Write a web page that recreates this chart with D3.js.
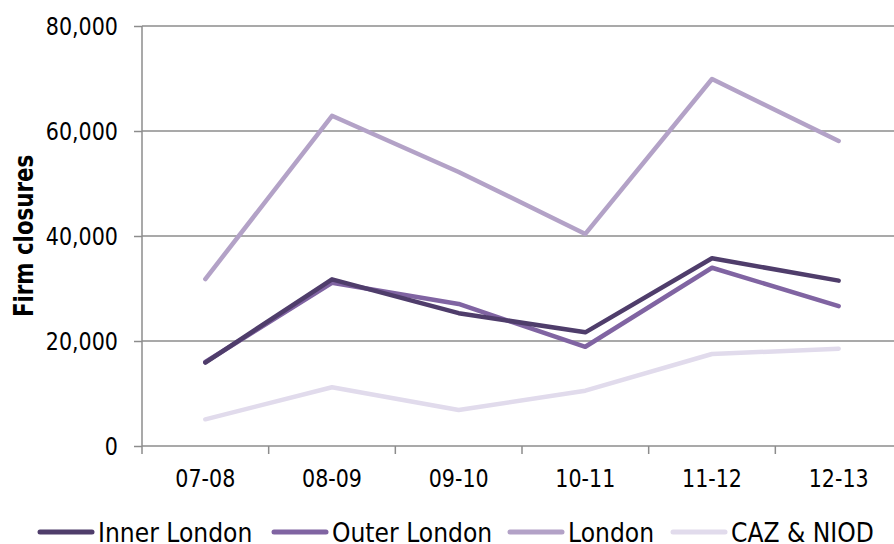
<!DOCTYPE html>
<html><head><meta charset="utf-8">
<script src="https://cdn.jsdelivr.net/npm/d3@7"></script>
<style>body{margin:0;background:#fff}svg{display:block}text{font-family:"DejaVu Sans",sans-serif}</style>
</head><body><svg id="c" width="894" height="544"></svg>
<script>
const categories = ["07-08","08-09","09-10","10-11","11-12","12-13"];
const innerLondon = [15900,31750,25300,21650,35750,31500];
const outerLondon = [16000,31100,27050,18900,33950,26650];
const london = [31800,62900,52200,40400,69900,58100];
const cazNiod = [5080,11180,6860,10540,17520,18540];
const yTicks = [0,20000,40000,60000,80000];
const seriesNames = ["Inner London","Outer London","London","CAZ & NIOD"];
const seriesColors = ["#4f3d6b","#8064a2","#b3a2c7","#e1dbec"];
const seriesValues = [innerLondon,outerLondon,london,cazNiod];

const svg = d3.select("#c");
const x = d3.scaleBand().domain(categories).range([142, 902]);
const y = d3.scaleLinear().domain([0,80000]).range([446, 26]);
const axisColor = "#8c8c8c";

// gridlines
svg.append("g").selectAll("line").data(yTicks.filter(d=>d>0)).join("line")
  .attr("x1",142).attr("x2",894).attr("y1",d=>y(d)).attr("y2",d=>y(d))
  .attr("stroke",axisColor).attr("stroke-width",1.5);

// y axis
const ya = svg.append("g").attr("transform","translate(142,0)")
  .call(d3.axisLeft(y).tickValues(yTicks).tickSize(8).tickPadding(16).tickFormat(d3.format(",")));
ya.select(".domain").attr("stroke",axisColor).attr("stroke-width",1.5).attr("d","M0,26V446");
ya.selectAll(".tick line").attr("stroke",axisColor).attr("stroke-width",1.5);
ya.selectAll("text").attr("font-size",24).attr("fill","#000")
  .style("font-family",'"DejaVu Sans",sans-serif')
  .attr("x",0).attr("dy","0.36em").attr("transform","translate(-24,0) scale(0.86,1)");

// x axis
const xa = svg.append("g").attr("transform","translate(0,446)")
  .call(d3.axisBottom(x).tickSize(0).tickFormat(""));
xa.select(".domain").attr("stroke",axisColor).attr("stroke-width",1.5).attr("d","M142,0H894");
svg.append("g").selectAll("line").data(categories).join("line")
  .attr("x1",d=>x(d)).attr("x2",d=>x(d)).attr("y1",446).attr("y2",454)
  .attr("stroke",axisColor).attr("stroke-width",1.5);
svg.append("g").selectAll("text").data(categories).join("text")
  .attr("transform",d=>`translate(${x(d)+x.bandwidth()/2},487) scale(0.86,1)`)
  .attr("text-anchor","middle").attr("font-size",24).attr("fill","#000").text(d=>d);

// y label
svg.append("text").attr("transform","translate(33,236) rotate(-90) scale(0.79,1)")
  .attr("text-anchor","middle").attr("font-size",27).attr("font-weight","bold")
  .attr("fill","#000").text("Firm closures");

// lines
const line = d3.line().x((d,i)=>x(categories[i])+x.bandwidth()/2).y(d=>y(d));
[3,2,1,0].forEach(k=>{
  svg.append("path").attr("d",line(seriesValues[k])).attr("fill","none")
    .attr("stroke",seriesColors[k]).attr("stroke-width",4.5)
    .attr("stroke-linecap","round").attr("stroke-linejoin","round");
});

// legend
const legX = [38,272,508,671];
const lg = svg.append("g");
seriesNames.forEach((n,i)=>{
  lg.append("line").attr("x1",legX[i]+2).attr("x2",legX[i]+54).attr("y1",532).attr("y2",532)
    .attr("stroke",seriesColors[i]).attr("stroke-width",5).attr("stroke-linecap","round");
  lg.append("text").attr("transform",`translate(${legX[i]+60},542) scale(0.87,1)`)
    .attr("font-size",27).attr("fill","#000").text(n);
});
</script></body></html>
